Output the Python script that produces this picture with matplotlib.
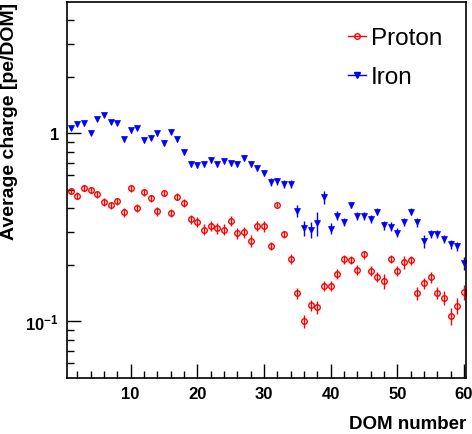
import numpy as np
import matplotlib.pyplot as plt
from matplotlib.lines import Line2D
from matplotlib.ticker import FixedLocator, FixedFormatter, NullFormatter

plt.rcParams["font.family"] = ["Liberation Sans", "DejaVu Sans"]
plt.rcParams["mathtext.fontset"] = "custom"
plt.rcParams["mathtext.rm"] = "Liberation Sans"
plt.rcParams["mathtext.bf"] = "Liberation Sans:bold"

dom = np.arange(1, 61)

proton = [0.495, 0.466, 0.514, 0.501, 0.475, 0.433, 0.414, 0.436, 0.380, 0.510,
          0.402, 0.485, 0.451, 0.385, 0.483, 0.378, 0.460, 0.428, 0.350, 0.339,
          0.308, 0.323, 0.313, 0.308, 0.343, 0.294, 0.299, 0.269, 0.323, 0.320,
          0.252, 0.416, 0.291, 0.215, 0.141, 0.100, 0.122, 0.119, 0.155, 0.155,
          0.179, 0.214, 0.212, 0.188, 0.227, 0.185, 0.173, 0.164, 0.215, 0.185,
          0.207, 0.211, 0.141, 0.160, 0.172, 0.142, 0.134, 0.107, 0.121, 0.143]
proton_err = [0.02] * 30 + [0.012] * 4 + [0.009, 0.008, 0.008, 0.009, 0.009, 0.009] + \
             [0.011] * 6 + [0.011, 0.015, 0.011, 0.011, 0.016, 0.011] + \
             [0.011] * 6 + [0.012, 0.013]

iron = [1.07, 1.12, 1.13, 1.01, 1.20, 1.26, 1.15, 1.14, 0.93, 1.04,
        1.07, 0.92, 0.95, 1.00, 0.89, 1.02, 0.93, 0.80, 0.69, 0.68,
        0.687, 0.721, 0.687, 0.710, 0.695, 0.687, 0.742, 0.687, 0.656, 0.617,
        0.551, 0.556, 0.540, 0.540, 0.388, 0.313, 0.308, 0.333, 0.457, 0.312,
        0.365, 0.339, 0.416, 0.365, 0.365, 0.350, 0.383, 0.325, 0.319, 0.297,
        0.339, 0.383, 0.336, 0.267, 0.292, 0.292, 0.274, 0.258, 0.252, 0.204]
iron_err = [0.03] * 18 + [0.025] * 16 + [0.03, 0.03, 0.03, 0.05, 0.035, 0.02, 0.02] + \
           [0.017] * 12 + [0.02] + [0.014] * 5 + [0.016]

fig = plt.figure(figsize=(4.72, 4.35), dpi=100)
ax = fig.add_axes([0.1426, 0.1287, 0.8447, 0.8644])

ax.errorbar(dom, proton, yerr=proton_err, fmt="o", color="red", mfc="none",
            mec="red", ms=4, mew=1, elinewidth=1, capsize=0)
ax.errorbar(dom, iron, yerr=iron_err, fmt="v", color="blue", mfc="blue",
            mec="blue", ms=5, mew=0.5, elinewidth=1, capsize=0)

ax.set_yscale("log")
ax.set_xlim(0.5, 60.3)
ax.set_ylim(0.05, 5)

ax.xaxis.set_major_locator(FixedLocator([10, 20, 30, 40, 50, 60]))
ax.xaxis.set_minor_locator(FixedLocator(np.arange(2, 61, 2)))
ax.yaxis.set_major_locator(FixedLocator([0.1, 1]))
ax.yaxis.set_major_formatter(FixedFormatter([r"$\mathbf{10^{-1}}$", "1"]))
minor_y = [0.06, 0.07, 0.08, 0.09, 0.2, 0.3, 0.4, 0.5, 0.6, 0.7, 0.8, 0.9, 2, 3, 4]
ax.yaxis.set_minor_locator(FixedLocator(minor_y))
ax.yaxis.set_minor_formatter(NullFormatter())

ax.tick_params(which="both", direction="in", top=False, right=False, width=1)
ax.tick_params(which="major", length=10, labelsize=12, pad=6)
ax.tick_params(which="minor", length=5)
for lab in ax.get_xticklabels() + ax.get_yticklabels():
    lab.set_fontweight("bold")
for s in ax.spines.values():
    s.set_linewidth(1.2)

ax.set_xlabel("DOM number", fontsize=13.5, fontweight="bold", loc="right", labelpad=10)
ax.set_ylabel("Average charge [pe/DOM]", fontsize=14, fontweight="bold", loc="top", labelpad=5)

handles = [Line2D([], [], color="red", marker="o", mfc="none", ms=4, lw=1),
           Line2D([], [], color="blue", marker="v", ms=5, lw=1)]
ax.legend(handles, ["Proton", "Iron"], loc="upper left", bbox_to_anchor=(0.704, 0.933),
          frameon=False, fontsize=17.5, handlelength=0.75, handletextpad=0.2,
          labelspacing=0.7, borderaxespad=0, borderpad=0)

fig.savefig("out.png", dpi=100)
